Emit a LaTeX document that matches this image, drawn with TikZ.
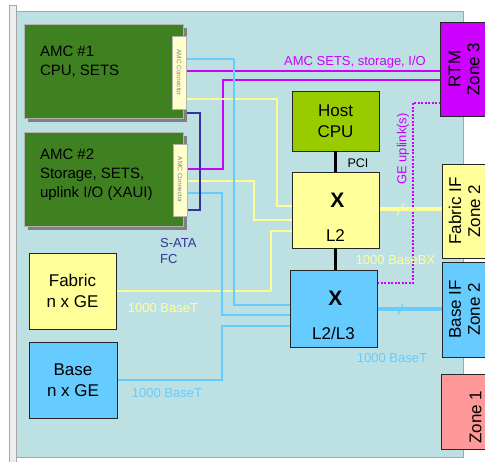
\documentclass[tikz,border=0pt]{standalone}
\usepackage{fontspec}
\setmainfont{Liberation Sans}
\usetikzlibrary{shadows}
\definecolor{board}{HTML}{BDE0E3}
\definecolor{face}{HTML}{EEEEEE}
\definecolor{amcgreen}{HTML}{3F8020}
\definecolor{concream}{HTML}{FFFFCC}
\definecolor{fabyel}{HTML}{FFFF99}
\definecolor{baseblue}{HTML}{66CCFF}
\definecolor{hostgreen}{HTML}{99CC00}
\definecolor{rtmmag}{HTML}{CC00FF}
\definecolor{zonepink}{HTML}{FF9999}
\definecolor{satanavy}{HTML}{333399}
\pgfdeclarelayer{bg}
\pgfdeclarelayer{wires}
\pgfsetlayers{bg,wires,main}

\begin{document}
\begin{tikzpicture}[x=1pt, y=-1pt,
		box/.style={shape=rectangle, draw=black!85, line width=0.8pt, inner sep=0pt, align=center, font=\fontsize{17}{21}\selectfont},
		amc/.style={shape=rectangle, draw=gray!60, fill=amcgreen, inner sep=0pt, minimum width=159pt, minimum height=94pt, drop shadow={shadow xshift=4pt, shadow yshift=-4pt, fill=gray, opacity=1}},
		con/.style={shape=rectangle, draw=gray!60, fill=concream, inner sep=0pt, minimum width=14pt},
		contxt/.style={rotate=-90, inner sep=0pt, text=gray, font=\fontsize{6.5}{7}\selectfont},
		amctxt/.style={inner sep=0pt, align=left, font=\fontsize{15}{19}\selectfont},
		bigx/.style={inner sep=0pt, anchor=base, font=\bfseries\fontsize{21}{21}\selectfont},
		swtxt/.style={inner sep=0pt, anchor=base, font=\fontsize{17}{17}\selectfont},
		zonetxt/.style={rotate=90, inner sep=0pt, align=center, font=\fontsize{17}{19}\selectfont},
		lbl/.style={inner sep=0pt, anchor=base, font=\fontsize{13}{16}\selectfont},
		mag/.style={draw=rtmmag, line width=2pt},
		yel/.style={draw=fabyel, line width=2pt},
		blu/.style={draw=baseblue, line width=2pt},
		nav/.style={draw=satanavy, line width=2pt}
	]
	\useasboundingbox (0,0) rectangle (485,462);
	\begin{pgfonlayer}{bg}
		\draw[draw=gray!70, fill=face] (9,5) rectangle (16,470);
		\draw[draw=gray!70, fill=board] (16,11) rectangle (463,457);
	\end{pgfonlayer}
	\node[amc] (AMC1) at (103.5,71){};
	\node[con, minimum height=73pt] (CON1) at (179,72.5){};
	\node[contxt] at (CON1.center){AMC Connector};
	\node[amctxt, anchor=north west] (T1) at ([shift={(16,22)}]AMC1.north west){AMC \#1\\CPU, SETS};
	\node[amc] (AMC2) at (103.5,179){};
	\node[con, minimum height=72pt] (CON2) at (180,180){};
	\node[contxt] at (CON2.center){AMC Connector};
	\node[amctxt, anchor=north west] (T2) at ([shift={(16,17)}]AMC2.north west){AMC \#2\\Storage, SETS,\\uplink I/O (XAUI)};
	\node[box, fill=fabyel, minimum width=87pt, minimum height=76pt] (FAB) at (72.5,291){Fabric\\n x GE};
	\node[box, fill=baseblue, minimum width=88pt, minimum height=76pt] (BAS) at (73,380){Base\\n x GE};
	\node[box, fill=hostgreen, minimum width=87pt, minimum height=60pt] (HOST) at (335.5,121){Host\\CPU};
	\node[box, fill=fabyel, minimum width=87pt, minimum height=76pt] (SW2) at (335.5,210){};
	\node[bigx] at ([shift={(2,36)}]SW2.north){X};
	\node[swtxt] at ([shift={(0,70)}]SW2.north){L2};
	\node[box, fill=baseblue, minimum width=87pt, minimum height=77pt] (SW3) at (333.5,308.5){};
	\node[bigx] at ([shift={(2,36)}]SW3.north){X};
	\node[swtxt] at ([shift={(0,70)}]SW3.north){L2/L3};
	\node[box, fill=rtmmag, minimum width=60pt, minimum height=94pt] (RTM) at (470,69){};
	\node[zonetxt] at (464,69){RTM\\Zone 3};
	\node[box, fill=fabyel, minimum width=58pt, minimum height=94pt] (FIF) at (471,211){};
	\node[zonetxt] at (464.5,211){Fabric IF\\Zone 2};
	\node[box, fill=baseblue, minimum width=58pt, minimum height=95pt] (BIF) at (471,309.5){};
	\node[zonetxt] at (464.5,309.5){Base IF\\Zone 2};
	\node[box, fill=zonepink, minimum width=59pt, minimum height=75pt] (Z1) at (470.5,411.5){};
	\node[zonetxt] at (475.5,417){Zone 1};
	\begin{pgfonlayer}{wires}
		\draw[mag] (CON1.east |- 0,71) -- (RTM.west |- 0,71);
		\draw[mag] (CON2.east |- 0,169) -| (223,80) -- (RTM.west |- 0,80);
		\draw[mag, dash pattern={on 2pt off 1.5pt}] (SW3.east |- 0,283) -| (413,103) -- (RTM.west |- 0,103);
		\draw[yel] (CON1.east |- 0,99) -| (277,206) -- (SW2.west |- 0,206);
		\draw[yel] (CON2.east |- 0,181) -| (254,220) -- (SW2.west |- 0,220);
		\draw[yel] (FAB.east |- 0,291) -| (271,231) -- (SW2.west |- 0,231);
		\draw[yel, line width=3.5pt] (SW2.east |- 0,209) -- (FIF.west |- 0,209);
		\draw[blu] (CON1.east |- 0,59) -| (234,305) -- (SW3.west |- 0,305);
		\draw[blu] (CON2.east |- 0,193) -| (222,315) -- (SW3.west |- 0,315);
		\draw[blu] (BAS.east |- 0,380) -| (222,326) -- (SW3.west |- 0,326);
		\draw[blu, line width=3.5pt] (SW3.east |- 0,309) -- (BIF.west |- 0,309);
		\draw[nav] (AMC1.east |- 0,113) -| (200,210) -- (AMC2.east |- 0,210);
	\end{pgfonlayer}
	\draw[yel, line width=1pt] (397,215) -- (404,203);
	\draw[blu, line width=1pt] (398,315) -- (403,304);
	\draw[line width=3.5pt] (HOST.south) -- (SW2.north);
	\draw[line width=3.5pt] (SW2.south) -- (SW2.south |- SW3.north);
	\node[lbl, text=rtmmag] (L1) at (355,66){AMC SETS, storage, I/O};
	\node[lbl, anchor=base west, align=left, text=satanavy] (L2) at (160,264){S-ATA\\FC};
	\node[lbl, text=fabyel] (L3) at (163,313){1000 BaseT};
	\node[lbl, text=baseblue] (L4) at (167,398){1000 BaseT};
	\node[lbl, text=fabyel] (L5) at (395.5,265){1000 BaseBX};
	\node[lbl, text=baseblue] (L6) at (392,363){1000 BaseT};
	\node[lbl, font=\fontsize{12.5}{14}\selectfont] (L7) at (358,168){PCI};
	\node[rotate=90, inner sep=0pt, text=rtmmag, font=\fontsize{13}{16}\selectfont] (L8) at (403,149){GE uplink(s)};
\end{tikzpicture}
\end{document}
